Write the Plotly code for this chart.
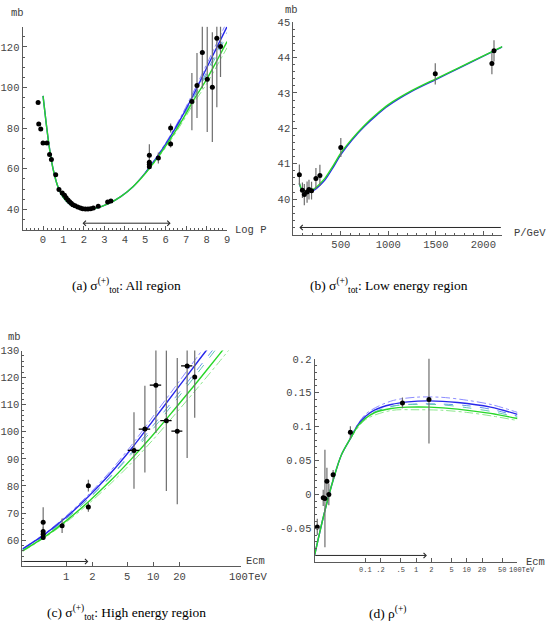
import plotly.graph_objects as go

W, H = 552, 627

# ---------------- (a) sigma_tot, all region (x = log10 P) ----------------
a_logp = [-0.24, -0.21, -0.11, 0.0, 0.19, 0.32, 0.41, 0.62, 0.78, 0.94,
          1.05, 1.13, 1.22, 1.30, 1.38, 1.46, 1.57, 1.70, 1.83, 1.94,
          2.07, 2.20, 2.33, 2.46, 2.70, 3.16, 3.32,
          5.20, 5.20, 5.20, 5.20, 5.64, 6.24, 6.24,
          7.28, 7.53, 7.79, 8.03, 8.28, 8.50, 8.68]
a_sigma = [92.6, 82.0, 79.6, 72.7, 72.7, 67.0, 64.6, 57.1, 49.8, 48.1,
           47.0, 45.7, 44.6, 43.8, 43.0, 42.3, 41.8, 41.2, 40.7, 40.3,
           40.2, 40.2, 40.3, 40.7, 41.5, 43.6, 44.1,
           66.6, 63.2, 62.2, 61.0, 65.3, 80.1, 72.2,
           93.1, 101.0, 117.2, 104.1, 100.2, 124.3, 120.2]
a_err = [0] * 27 + [5.5, 1.5, 1.5, 1.0, 2.7, 2.2, 1.7,
                    14.1, 16.0, 17.7, 26.0, 27.0, 34.0, 15.0]
a_xerr = [0] * 34 + [0.1, 0.1, 0.1, 0.1, 0.1, 0.1, 0.0]

a_curve_x = [0, 0.16, 0.32, 0.49, 0.73, 0.97, 1.3, 1.7, 2.1, 2.6, 3.2,
             3.8, 4.4, 5.0, 5.6, 6.2, 6.8, 7.4, 8.0, 8.5, 9.0]
a_green = [95.9, 82.0, 69.8, 60.0, 51.1, 46.2, 42.6, 40.6, 40.1, 40.6, 42.8,
           46.3, 51.2, 57.7, 65.5, 74.2, 83.8, 94.4, 104.0, 113.2, 122.6]
a_blue = [95.9, 82.0, 69.8, 60.0, 51.1, 46.2, 42.6, 40.6, 40.1, 40.6, 42.8,
          46.3, 51.2, 58.0, 66.2, 75.4, 85.8, 97.3, 109.6, 119.8, 130.0]
a_band_x = [5.0, 5.6, 6.2, 6.8, 7.4, 8.0, 8.5, 9.0]
a_blue_hi = [58.2, 66.6, 76.1, 86.8, 98.8, 111.4, 122.0, 132.6]
a_blue_lo = [57.8, 65.8, 74.7, 84.8, 95.8, 107.6, 117.5, 127.2]
a_green_hi = [57.9, 66.0, 75.0, 85.0, 96.0, 106.4, 116.1, 125.8]
a_green_lo = [57.5, 65.0, 73.4, 82.6, 92.8, 101.8, 110.6, 119.6]

# ---------------- (b) sigma_tot, low energy region (x = P/GeV) ----------------
b_p = [64, 96, 116, 145, 165, 192, 238, 280, 500, 1494, 2090, 2112]
b_sigma = [40.69, 40.25, 40.13, 40.20, 40.27, 40.24, 40.58, 40.67, 41.46, 43.54, 43.83, 44.19]
b_err = [0.29, 0.22, 0.30, 0.30, 0.28, 0.25, 0.30, 0.30, 0.27, 0.30, 0.30, 0.30]

b_curve_p = [64, 90, 120, 150, 200, 250, 330, 420, 500, 620, 750, 880,
             1000, 1250, 1500, 1750, 2000, 2200]
b_green = [40.45, 40.27, 40.21, 40.21, 40.26, 40.36, 40.58, 40.95, 41.30, 41.71,
           42.09, 42.41, 42.67, 43.07, 43.40, 43.72, 44.05, 44.31]
b_blue = [40.44, 40.26, 40.20, 40.19, 40.23, 40.32, 40.53, 40.90, 41.26, 41.68,
          42.06, 42.38, 42.64, 43.05, 43.38, 43.71, 44.04, 44.30]

# ---------------- (c) sigma_tot, high energy region (x = Ecm / TeV) ----------------
c_ecm = [0.546, 0.546, 0.546, 0.546, 0.9, 1.8, 1.8, 6.0, 8.0, 10.7, 14.1, 18.8, 24.4, 29.8]
c_sigma = [66.6, 63.2, 62.2, 61.0, 65.3, 80.1, 72.2, 93.1, 101.0, 117.2, 104.1, 100.2, 124.3, 120.2]
c_err = [5.5, 1.5, 1.5, 1.0, 2.7, 2.2, 1.7, 14.1, 16.0, 17.7, 26.0, 27.0, 34.0, 15.0]
c_ecm_err = [0, 0, 0, 0, 0, 0, 0, 0.9, 1.2, 1.6, 2.1, 2.7, 3.6, 0]

c_curve_e = [0.316, 0.562, 1.0, 1.78, 3.16, 5.62, 10.0, 17.8, 31.6, 56.2, 100]
c_blue = [56.7, 62.0, 68.4, 75.9, 84.3, 93.8, 104.3, 114.9, 125.5, 136.0, 147.0]
c_blue_hi = [56.8, 62.3, 68.9, 76.6, 85.2, 95.0, 105.8, 116.6, 127.5, 138.4, 149.6]
c_blue_lo = [56.6, 61.7, 67.9, 75.1, 83.2, 92.3, 102.4, 112.6, 122.8, 133.0, 143.5]
c_green = [56.0, 61.1, 67.1, 74.0, 81.6, 90.0, 99.0, 108.6, 118.3, 128.3, 138.5]
c_green_hi = [56.2, 61.5, 67.8, 75.0, 83.0, 91.8, 101.2, 111.3, 121.4, 131.8, 142.4]
c_green_lo = [55.8, 60.8, 66.6, 73.2, 80.5, 88.5, 97.2, 106.5, 115.9, 125.6, 135.5]

# ---------------- (d) rho (x = Ecm / TeV) ----------------
d_ecm = [0.0113, 0.0148, 0.0160, 0.0175, 0.0191, 0.0232, 0.0508, 0.54, 1.8]
d_rho = [-0.048, -0.005, -0.006, 0.0195, 0.0, 0.029, 0.0917, 0.135, 0.140]
d_err = [0.012, 0.012, 0.072, 0.020, 0.016, 0.007, 0.009, 0.008, 0.065]

d_curve_e = [0.01, 0.0148, 0.0234, 0.0339, 0.0513, 0.0724, 0.1, 0.151, 0.324,
             0.692, 1.82, 6.61, 29.5, 100]
d_green = [-0.090, -0.034, 0.022, 0.0585, 0.083, 0.1015, 0.112, 0.1205, 0.1268,
           0.1288, 0.1288, 0.1259, 0.1195, 0.112]
d_blue = [-0.090, -0.034, 0.022, 0.0585, 0.083, 0.1034, 0.115, 0.1244, 0.1327,
          0.1366, 0.138, 0.1356, 0.1288, 0.118]
d_band_e = [0.05, 0.1, 0.316, 1.0, 3.16, 10.0, 31.6, 100]
d_blue_hi = [0.083, 0.118, 0.1375, 0.1434, 0.1433, 0.139, 0.1323, 0.121]
d_blue_lo = [0.081, 0.113, 0.1295, 0.1334, 0.1333, 0.131, 0.1253, 0.1155]
d_green_hi = [0.083, 0.114, 0.1297, 0.1329, 0.1322, 0.128, 0.1222, 0.114]
d_green_lo = [0.081, 0.110, 0.1237, 0.1249, 0.1242, 0.121, 0.1157, 0.109]

# 样式
BLUE = 'rgb(40,40,235)'
GREEN = 'rgb(40,215,40)'
BLUE_LIGHT = 'rgb(140,140,255)'
BLUE_MID = 'rgb(100,150,235)'
GREEN_MID = 'rgb(100,200,180)'
GREEN_LIGHT = 'rgb(140,230,140)'
ERR = 'rgb(110,110,110)'
AX = 'rgb(90,90,90)'
MONO = 'Liberation Mono'
SERIF = 'Liberation Serif'


def line(x, y, ax, color, width=1.4, dash='solid'):
    return go.Scatter(x=x, y=y, xaxis='x' + ax, yaxis='y' + ax, mode='lines',
                      line=dict(color=color, width=width, dash=dash, shape='spline', smoothing=0.9),
                      hoverinfo='skip')


def points(x, y, ey, ax, ex=None):
    tr = go.Scatter(x=x, y=y, xaxis='x' + ax, yaxis='y' + ax, mode='markers',
                    marker=dict(color='black', size=5),
                    error_y=dict(type='data', array=ey, color=ERR, thickness=1.2, width=0))
    if ex is not None:
        tr.error_x = dict(type='data', array=ex, color='black', thickness=1.2, width=0)
    return tr


def bands(x, bhi, blo, ghi, glo, ax):
    return [line(x, bhi, ax, BLUE_LIGHT, 1, 'dashdot'),
            line(x, blo, ax, BLUE_MID, 1, 'dash'),
            line(x, ghi, ax, GREEN_MID, 1, 'dash'),
            line(x, glo, ax, GREEN_LIGHT, 1, 'dashdot')]


fig = go.Figure()

# (a)
fig.add_traces(bands(a_band_x, a_blue_hi, a_blue_lo, a_green_hi, a_green_lo, ''))
fig.add_trace(line(a_curve_x, a_blue, '', BLUE))
fig.add_trace(line(a_curve_x, a_green, '', GREEN))
fig.add_trace(points(a_logp, a_sigma, a_err, '', a_xerr))

# (b)
fig.add_trace(line(b_curve_p, b_blue, '2', BLUE))
fig.add_trace(line(b_curve_p, b_green, '2', GREEN))
fig.add_trace(points(b_p, b_sigma, b_err, '2'))

# (c)
fig.add_traces(bands(c_curve_e, c_blue_hi, c_blue_lo, c_green_hi, c_green_lo, '3'))
fig.add_trace(line(c_curve_e, c_blue, '3', BLUE))
fig.add_trace(line(c_curve_e, c_green, '3', GREEN))
fig.add_trace(points(c_ecm, c_sigma, c_err, '3', c_ecm_err))

# (d)
fig.add_traces(bands(d_band_e, d_blue_hi, d_blue_lo, d_green_hi, d_green_lo, '4'))
fig.add_trace(line(d_curve_e, d_blue, '4', BLUE))
fig.add_trace(line(d_curve_e, d_green, '4', GREEN))
fig.add_trace(points(d_ecm, d_rho, d_err, '4'))


def axis(domain, rng, size=10.5, **kw):
    d = dict(domain=domain, range=rng, showline=True, linecolor=AX, linewidth=1,
             ticks='inside', ticklen=4, tickwidth=1, tickcolor=AX,
             showgrid=False, zeroline=False, mirror=False,
             tickfont=dict(family=MONO, size=size, color='rgb(70,70,70)'))
    d.update(kw)
    return d


def minor(dtick):
    return dict(ticks='inside', ticklen=2, tickcolor=AX, dtick=dtick, showgrid=False)


def px_ann(text, x, y, size=10.5, family=MONO, color='rgb(60,60,60)', xanchor='center'):
    return dict(text=text, x=x / W, y=1 - y / H, xref='paper', yref='paper',
                xanchor=xanchor, yanchor='middle', showarrow=False,
                font=dict(family=family, size=size, color=color))


def arrow(xref, yref, x0, x1, y, both=False):
    return dict(x=x1, y=y, ax=x0, ay=y, xref=xref, yref=yref, axref=xref, ayref=yref,
                text='', showarrow=True, arrowhead=4, arrowsize=1, arrowwidth=1,
                arrowcolor='rgb(40,40,40)', arrowside='end+start' if both else 'end')


fig.update_layout(
    width=W, height=H, margin=dict(l=0, r=0, t=0, b=0),
    paper_bgcolor='white', plot_bgcolor='white', showlegend=False,
    xaxis=axis([22.7 / W, 228.3 / W], [-1, 9], anchor='y',
               tickvals=list(range(10)), minor=minor(0.2)),
    yaxis=axis([1 - 226.5 / H, 1 - 21.8 / H], [30, 130], anchor='x',
               tickvals=[40, 60, 80, 100, 120], minor=minor(5)),
    xaxis2=axis([294.9 / W, 505.1 / W], [0, 2200], anchor='y2',
                tickvals=[500, 1000, 1500, 2000], minor=minor(100)),
    yaxis2=axis([1 - 231.4 / H, 1 - 17.3 / H], [39, 45], anchor='x2',
                tickvals=[40, 41, 42, 43, 44, 45], minor=minor(0.2)),
    xaxis3=axis([22.6 / W, 241.9 / W], [-0.5, 2], anchor='y3', type='log',
                tickvals=[1, 2, 5, 10, 20, 100], ticktext=['1', '2', '5', '10', '20', '']),
    yaxis3=axis([1 - 565.6 / H, 1 - 348.3 / H], [50.4, 130], anchor='x3',
                tickvals=[60, 70, 80, 90, 100, 110, 120, 130], minor=minor(2)),
    xaxis4=axis([316.3 / W, 520.3 / W], [-2, 2], anchor='y4', type='log', size=7,
                tickvals=[0.1, 0.2, 0.5, 1, 2, 5, 10, 20, 50, 100],
                ticktext=['0.1', '.2', '.5', '1', '2', '5', '10', '20', '50', '']),
    yaxis4=axis([1 - 561.7 / H, 1 - 356.7 / H], [-0.1, 0.2], anchor='x4',
                tickvals=[-0.05, 0, 0.05, 0.1, 0.15, 0.2],
                ticktext=['-0.05', '0', '0.05', '0.1', '0.15', '0.2'], minor=minor(0.01)),
)

anns = [
    px_ann('mb', 18, 8), px_ann('Log P', 252, 227),
    px_ann('mb', 293, 5), px_ann('P/GeV', 533, 230),
    px_ann('mb', 15, 335), px_ann('Ecm', 257, 560), px_ann('100TeV', 250, 577),
    px_ann('Ecm', 538, 561), px_ann('100TeV', 510, 570, size=7, xanchor='left'),
    px_ann('(a) σ<sup>(+)</sup><sub>tot</sub>: All region', 127, 283, 13.5, SERIF, 'black'),
    px_ann('(b) σ<sup>(+)</sup><sub>tot</sub>: Low energy region', 391, 283, 13.5, SERIF, 'black'),
    px_ann('(c) σ<sup>(+)</sup><sub>tot</sub>: High energy region', 127, 612, 13.5, SERIF, 'black'),
    px_ann('(d) ρ<sup>(+)</sup>', 390, 612, 13.5, SERIF, 'black'),
    arrow('x', 'y', 1.86, 6.24, 33.2, both=True),
    arrow('x2', 'y2', 2200, 64, 39.2),
    arrow('x3', 'y3', -0.5, 0.255, 52.1),
    arrow('x4', 'y4', -2, 0.215, -0.09),
]
fig.update_layout(annotations=anns)

# 去掉页面默认边距，使图表贴齐窗口左上角；隐藏工具栏
fig.write_html("out.html", config={'displayModeBar': False},
               post_script="document.body.style.margin='0';")
